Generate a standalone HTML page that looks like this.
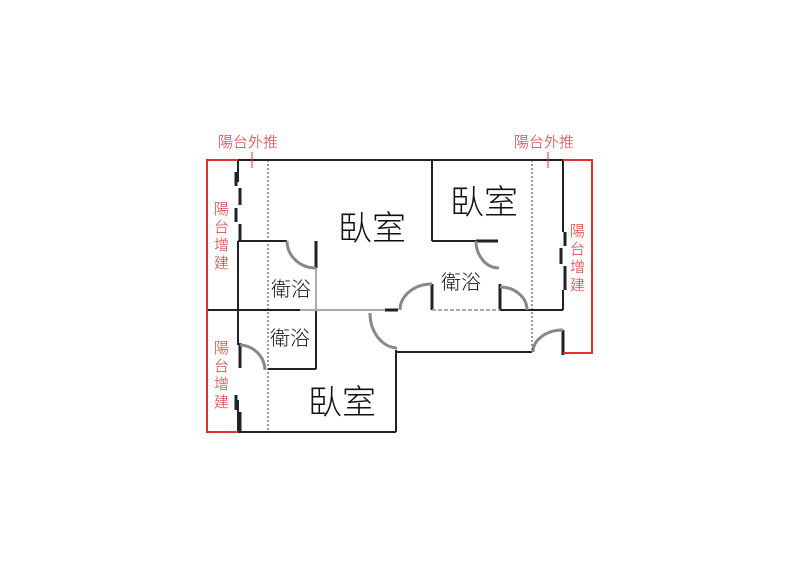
<!DOCTYPE html>
<html><head><meta charset="utf-8"><style>
body{margin:0;background:#fff;width:800px;height:565px;overflow:hidden}
text{font-family:"Liberation Sans","Noto Sans CJK TC",sans-serif;font-weight:300}
</style></head><body>
<svg width="800" height="565" viewBox="0 0 800 565">
<g fill="none" stroke="#222" stroke-width="2">
<line x1="238" y1="160" x2="563" y2="160"/>
<line x1="238" y1="160" x2="238" y2="182"/>
<line x1="238" y1="241" x2="238" y2="345"/>
<line x1="238" y1="241" x2="287" y2="241"/>
<line x1="316" y1="241" x2="316" y2="268" stroke-width="3"/>
<line x1="238" y1="432" x2="396" y2="432"/>
<line x1="396" y1="350" x2="396" y2="432"/>
<line x1="396" y1="352" x2="532" y2="352"/>
<line x1="316" y1="310" x2="316" y2="369"/>
<line x1="268" y1="369" x2="316" y2="369"/>
<line x1="432" y1="160" x2="432" y2="241"/>
<line x1="432" y1="241" x2="476" y2="241"/>
<line x1="476" y1="241" x2="498" y2="241" stroke-width="3"/>
<line x1="432" y1="284" x2="432" y2="310" stroke-width="3"/>
<line x1="500" y1="284" x2="500" y2="310" stroke-width="3"/>
<line x1="500" y1="310" x2="563" y2="310"/>
<line x1="563" y1="160" x2="563" y2="232"/>
<line x1="563" y1="290" x2="563" y2="310"/>
<line x1="563" y1="330" x2="563" y2="355" stroke-width="3"/>
<line x1="207" y1="310" x2="300" y2="310"/>
<line x1="238" y1="400" x2="238" y2="432"/>
<line x1="240" y1="343" x2="240" y2="368" stroke-width="3"/>
</g>
<g stroke="#222" stroke-width="3">
<line x1="236" y1="172" x2="236" y2="186"/><line x1="240" y1="188" x2="240" y2="205"/>
<line x1="236" y1="208" x2="236" y2="222"/><line x1="240" y1="224" x2="240" y2="241"/>
<line x1="236" y1="395" x2="236" y2="410"/><line x1="240" y1="412" x2="240" y2="432"/>
<line x1="565" y1="232" x2="565" y2="246"/><line x1="561" y1="248" x2="561" y2="264"/>
<line x1="565" y1="266" x2="565" y2="290"/>
<line x1="385" y1="310" x2="398" y2="310"/>
</g>
<g stroke="#aaa" stroke-width="2" fill="none">
<line x1="316" y1="268" x2="316" y2="310"/>
<line x1="300" y1="310" x2="385" y2="310"/>
<line x1="432" y1="310" x2="500" y2="310" stroke-dasharray="4 2"/>
</g>
<g stroke="#888" stroke-width="3" fill="none">
<path d="M287 241 A29 27 0 0 0 316 268"/>
<path d="M240 345 A26 26 0 0 1 265 370"/>
<path d="M400 310 A32 26 0 0 1 432 284"/>
<path d="M370 313 A28 35 0 0 0 397 348"/>
<path d="M476 241 A23 27 0 0 0 499 268"/>
<path d="M500 287 A27 23 0 0 1 527 310"/>
<path d="M533 352 A30 22 0 0 1 563 330"/>
</g>
<g stroke="#333" stroke-width="1" stroke-dasharray="2 2">
<line x1="268" y1="160" x2="268" y2="432"/>
<line x1="532" y1="160" x2="532" y2="352"/>
</g>
<g stroke="#e03030" stroke-width="2" fill="none">
<polyline points="238,160 207,160 207,432 238,432"/>
<polyline points="563,160 592,160 592,353 563,353"/>
<line x1="252" y1="152" x2="252" y2="168" stroke-width="1"/>
<line x1="548" y1="152" x2="548" y2="168" stroke-width="1"/>
</g>
<g fill="#e03030" font-size="15">
<text x="218" y="147">陽台外推</text>
<text x="514" y="147">陽台外推</text>
<text x="214" y="214">陽</text><text x="214" y="232">台</text><text x="214" y="250">增</text><text x="214" y="268">建</text>
<text x="214" y="353">陽</text><text x="214" y="371">台</text><text x="214" y="389">增</text><text x="214" y="407">建</text>
<text x="570" y="236">陽</text><text x="570" y="254">台</text><text x="570" y="272">增</text><text x="570" y="290">建</text>
</g>
<g fill="#111">
<text x="338" y="240" font-size="34">臥室</text>
<text x="450" y="214" font-size="34">臥室</text>
<text x="308" y="414" font-size="34">臥室</text>
<text x="271" y="296" font-size="20">衛浴</text>
<text x="270" y="345" font-size="20">衛浴</text>
<text x="441" y="289" font-size="20">衛浴</text>
</g>
</svg>
</body></html>
